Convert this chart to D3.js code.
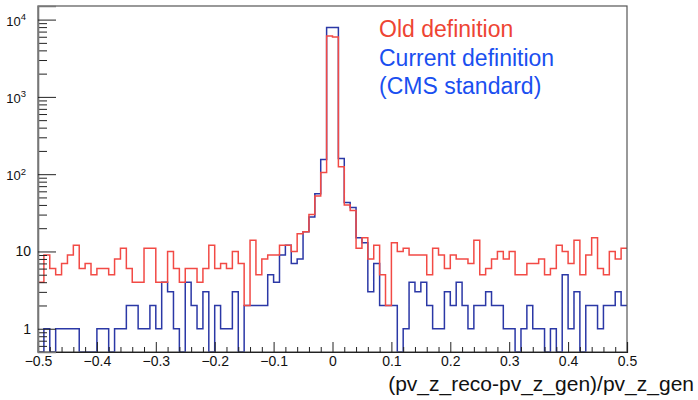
<!DOCTYPE html>
<html>
<head>
<meta charset="utf-8">
<script src="https://cdn.jsdelivr.net/npm/d3@7"></script>
<style>
  body { margin: 0; background: #fff; }
  svg { display: block; }
</style>
</head>
<body>
<div id="chart"></div>
<script>
// bins of (pv_z_reco - pv_z_gen)/pv_z_gen, 100 bins from -0.5 to 0.5
const binEdges = d3.range(101).map(i => -0.5 + i * 0.01);

// "Old definition" histogram (red)
const oldDef = [
  4, 9, 6, 5, 7, 9, 12, 6, 7, 5,
  6, 6, 5, 8, 11, 6, 4, 4, 11, 11,
  4, 4, 10, 6, 4, 6, 6, 4, 6, 12,
  6, 7, 6, 10, 7, 2, 14, 5, 8, 9,
  9, 12, 12, 10, 17, 18, 30, 52, 105, 6150,
  5950, 125, 40, 34, 11, 15, 8, 12, 5, 2,
  13, 10, 11, 9, 9, 9, 5, 11, 9, 6,
  9, 8, 8, 7, 14, 5, 6, 8, 10, 8,
  10, 5, 5, 7, 7, 8, 5, 6, 12, 10,
  7, 14, 5, 9, 15, 6, 5, 10, 8, 11
];

// "Current definition (CMS standard)" histogram (blue)
const currentDef = [
  0, 1, 0, 1, 1, 1, 1, 0, 0, 0,
  1, 1, 0, 1, 1, 2, 2, 1, 1, 2,
  1, 4, 3, 1, 0, 4, 2, 1, 3, 0,
  2, 1, 1, 3, 0, 2, 2, 2, 2, 5,
  4, 9, 12, 7, 8, 18, 28, 56, 155, 7900,
  7900, 160, 43, 37, 15, 13, 3, 7, 2, 2,
  2, 0, 1, 4, 3, 4, 2, 1, 1, 3,
  2, 4, 2, 1, 2, 2, 3, 2, 2, 1,
  1, 0, 1, 2, 1, 1, 0, 1, 0, 5,
  1, 3, 0, 2, 2, 1, 2, 2, 3, 2
];

const xTicks = [-0.5, -0.4, -0.3, -0.2, -0.1, 0, 0.1, 0.2, 0.3, 0.4, 0.5];
const xTickLabels = ["\u22120.5", "\u22120.4", "\u22120.3", "\u22120.2", "\u22120.1", "0", "0.1", "0.2", "0.3", "0.4", "0.5"];
const yTicks = [1, 10, 100, 1000, 10000];
const yTickLabels = ["1", "10", "10|2", "10|3", "10|4"];
const legendLabels = ["Old definition", "Current definition", "(CMS standard)"];
const xTitle = "(pv_z_reco-pv_z_gen)/pv_z_gen";

const width = 698, height = 400;
const frame = { left: 38, right: 627, top: 6, bottom: 352 };

const svg = d3.select("#chart").append("svg")
  .attr("width", width)
  .attr("height", height)
  .style("font-family", "'Liberation Sans', Arial, sans-serif");

const x = d3.scaleLinear().domain([-0.5, 0.5]).range([frame.left, frame.right]);
const y = d3.scaleLog().domain([0.5, 15000]).range([frame.bottom, frame.top]);

svg.append("clipPath").attr("id", "clip")
  .append("rect")
  .attr("x", frame.left).attr("y", frame.top)
  .attr("width", frame.right - frame.left)
  .attr("height", frame.bottom - frame.top);

// step outline like ROOT's HIST option, zero bins go down to the frame
function histPoints(vals) {
  const pts = [];
  vals.forEach((v, i) => {
    const yy = v > 0 ? y(v) : frame.bottom;
    pts.push([x(binEdges[i]), yy], [x(binEdges[i + 1]), yy]);
  });
  return pts;
}

const line = d3.line();

svg.append("path")
  .attr("clip-path", "url(#clip)")
  .attr("d", line(histPoints(currentDef)))
  .attr("fill", "none")
  .attr("stroke", "#2b38a6")
  .attr("stroke-width", 1.5);

svg.append("path")
  .attr("clip-path", "url(#clip)")
  .attr("d", line(histPoints(oldDef)))
  .attr("fill", "none")
  .attr("stroke", "#f24a45")
  .attr("stroke-width", 1.5);

// frame
svg.append("rect")
  .attr("x", frame.left).attr("y", frame.top)
  .attr("width", frame.right - frame.left)
  .attr("height", frame.bottom - frame.top)
  .attr("fill", "none")
  .attr("stroke", "#555")
  .attr("stroke-width", 1.2);

// x axis: major + minor ticks pointing into the frame
const xMinor = d3.range(51).map(i => -0.5 + i * 0.02)
  .filter(v => Math.abs(Math.round(v * 10) - v * 10) > 1e-6);

svg.append("g")
  .attr("transform", `translate(0,${frame.bottom})`)
  .call(d3.axisBottom(x).tickValues(xMinor).tickSize(-5).tickFormat(""))
  .call(g => g.select(".domain").remove())
  .call(g => g.selectAll("line").attr("stroke", "#222"));

svg.append("g")
  .attr("transform", `translate(0,${frame.bottom})`)
  .call(d3.axisBottom(x).tickValues(xTicks).tickSize(-10).tickPadding(14)
    .tickFormat((d, i) => xTickLabels[i]))
  .call(g => g.select(".domain").attr("stroke", "#222").attr("stroke-width", 1.2))
  .call(g => g.selectAll("line").attr("stroke", "#222"))
  .call(g => g.selectAll("text")
    .attr("font-size", 14)
    .attr("font-family", "'Liberation Sans', Arial, sans-serif")
    .attr("fill", "#111")
    .attr("dy", "0"));

// y axis
const yMinor = [];
[0.1, 1, 10, 100, 1000].forEach(k => {
  for (let m = 2; m <= 9; m++) {
    const v = m * k;
    if (v >= 0.5 && v <= 15000) yMinor.push(v);
  }
});

svg.append("g")
  .attr("transform", `translate(${frame.left},0)`)
  .call(d3.axisLeft(y).tickValues(yMinor).tickSize(-9).tickFormat(""))
  .call(g => g.select(".domain").remove())
  .call(g => g.selectAll("line").attr("stroke", "#222"));

svg.append("g")
  .attr("transform", `translate(${frame.left},0)`)
  .call(d3.axisLeft(y).tickValues(yTicks).tickSize(-18).tickFormat(""))
  .call(g => g.select(".domain").attr("stroke", "#777").attr("stroke-width", 1.6))
  .call(g => g.selectAll("line").attr("stroke", "#222"));

// y tick labels, powers written as 10 with a superscript in one text
const yLab = svg.append("g").attr("fill", "#111");
yTicks.forEach((v, i) => {
  const lab = yTickLabels[i];
  const ty = y(v);
  if (lab.includes("|")) {
    const [base, pow] = lab.split("|");
    const t = yLab.append("text")
      .attr("x", 26).attr("y", ty + 6)
      .attr("text-anchor", "end")
      .attr("font-size", 13);
    t.append("tspan").text(base);
    t.append("tspan")
      .attr("dy", -5.5)
      .attr("font-size", 9.5)
      .text(pow);
  } else {
    yLab.append("text")
      .attr("x", 31).attr("y", ty + 5)
      .attr("text-anchor", "end")
      .attr("font-size", 14)
      .text(lab);
  }
});

// x axis title
svg.append("text")
  .attr("x", 694).attr("y", 391)
  .attr("text-anchor", "end")
  .attr("font-size", 21)
  .attr("fill", "#111")
  .text(xTitle);

// legend text
const legColors = ["#ee4433", "#1a4ff0", "#1a4ff0"];
const legY = [37, 66, 94];
legendLabels.forEach((t, i) => {
  svg.append("text")
    .attr("x", 379).attr("y", legY[i])
    .attr("font-size", 23)
    .attr("fill", legColors[i])
    .text(t);
});
</script>
</body>
</html>
